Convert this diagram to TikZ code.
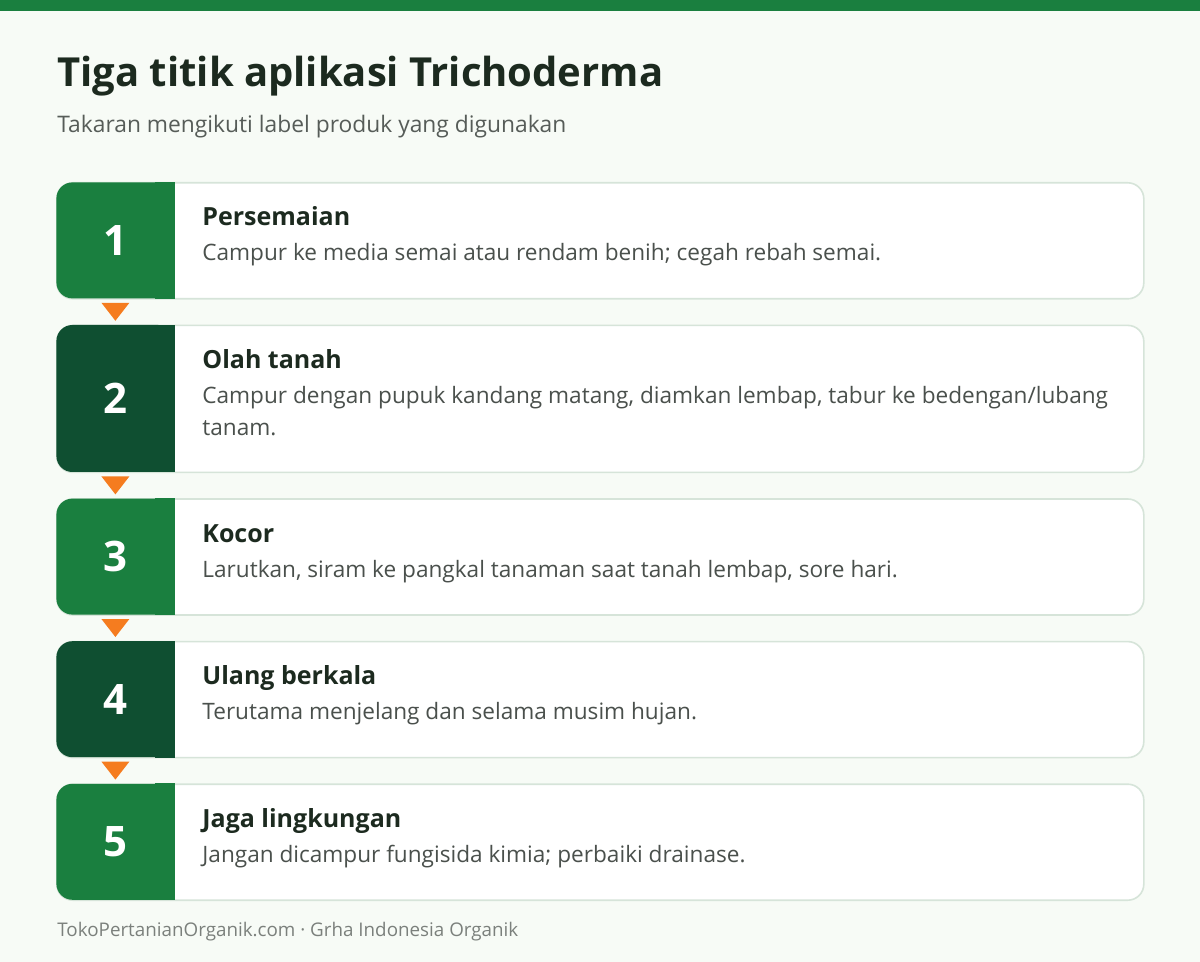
\documentclass[tikz,border=0pt]{standalone}
\usepackage{fontspec}
\setmainfont{Open Sans}
\usepackage{xcolor}
\usepackage{tikz}
\usetikzlibrary{positioning,calc}
\definecolor{palBar}{HTML}{1A7F3F}
\definecolor{palGreen}{HTML}{1A7F3F}
\definecolor{palGreenDk}{HTML}{0F4F31}
\definecolor{palOrange}{HTML}{F57C1F}
\definecolor{palEdge}{HTML}{D6E4D9}
\definecolor{palPage}{HTML}{F7FBF6}
\definecolor{palInk}{HTML}{1C2A1F}
\definecolor{palText}{HTML}{4A504C}
\definecolor{palSub}{HTML}{565C58}
\definecolor{palFoot}{HTML}{7B807C}
\tikzset{
  cardbox/.style={draw=palEdge, fill=white, line width=0.8pt,
                  rounded corners=8pt, minimum width=543.5pt,
                  minimum height=58pt, inner sep=0pt},
  numbox/.style={rounded corners=8pt, minimum width=59pt,
                 minimum height=58pt, inner sep=0pt, text=white,
                 font=\bfseries\fontsize{21}{24}\selectfont},
  headtxt/.style={anchor=base west, inner sep=0pt, text=palInk,
                  font=\bfseries\fontsize{12.5}{15}\selectfont},
  desctxt/.style={anchor=base west, inner sep=0pt, text=palText, align=left,
                  font=\fontsize{11.3}{16}\selectfont},
  flowtri/.style={fill=palOrange},
}

\begin{document}
\begin{tikzpicture}[node distance=12.5pt]
%% Page
\fill[palPage] (0,0) rectangle (600pt,-481pt);
\useasboundingbox (0,0) rectangle (600pt,-481pt);
\fill[palBar] (0,0) rectangle (600pt,-5.5pt);
%% Title
\node[anchor=base west, inner sep=0pt, text=palInk,
      font=\bfseries\fontsize{20}{24}\selectfont] (title) at (28.5pt,-43.5pt)
      {Tiga titik aplikasi Trichoderma};
\node[anchor=base west, inner sep=0pt, text=palSub,
      font=\fontsize{11.4}{14}\selectfont] (sub) at (28.5pt,-66.5pt)
      {Takaran mengikuti label produk yang digunakan};
%% Cards
\node[cardbox, anchor=north west] (c1) at (28pt,-91pt) {};
\node[cardbox, minimum height=73.5pt, below=of c1] (c2) {};
\node[cardbox, below=of c2] (c3) {};
\node[cardbox, below=of c3] (c4) {};
\node[cardbox, below=of c4] (c5) {};
%% Number boxes
\node[numbox, fill=palGreen, anchor=north west] (n1) at (c1.north west) {1};
\node[numbox, fill=palGreenDk, minimum height=73.5pt, anchor=north west] (n2) at (c2.north west) {2};
\node[numbox, fill=palGreen, anchor=north west] (n3) at (c3.north west) {3};
\node[numbox, fill=palGreenDk, anchor=north west] (n4) at (c4.north west) {4};
\node[numbox, fill=palGreen, anchor=north west] (n5) at (c5.north west) {5};
% square off the right-hand corners
\fill[palGreen] ([xshift=-10pt]n1.north east) rectangle (n1.south east);
\fill[palGreenDk] ([xshift=-10pt]n2.north east) rectangle (n2.south east);
\fill[palGreen] ([xshift=-10pt]n3.north east) rectangle (n3.south east);
\fill[palGreenDk] ([xshift=-10pt]n4.north east) rectangle (n4.south east);
\fill[palGreen] ([xshift=-10pt]n5.north east) rectangle (n5.south east);
%% Texts
\node[headtxt] (h1) at ([xshift=73pt,yshift=-22pt]c1.north west) {Persemaian};
\node[desctxt] (d1) at ([xshift=73pt,yshift=-39.5pt]c1.north west)
  {Campur ke media semai atau rendam benih; cegah rebah semai.};
\node[headtxt] (h2) at ([xshift=73pt,yshift=-22pt]c2.north west) {Olah tanah};
\node[desctxt] (d2) at ([xshift=73pt,yshift=-55.5pt]c2.north west)
  {Campur dengan pupuk kandang matang, diamkan lembap, tabur ke bedengan/lubang\\tanam.};
\node[headtxt] (h3) at ([xshift=73pt,yshift=-22pt]c3.north west) {Kocor};
\node[desctxt] (d3) at ([xshift=73pt,yshift=-39.5pt]c3.north west)
  {Larutkan, siram ke pangkal tanaman saat tanah lembap, sore hari.};
\node[headtxt] (h4) at ([xshift=73pt,yshift=-22pt]c4.north west) {Ulang berkala};
\node[desctxt] (d4) at ([xshift=73pt,yshift=-39.5pt]c4.north west)
  {Terutama menjelang dan selama musim hujan.};
\node[headtxt] (h5) at ([xshift=73pt,yshift=-22pt]c5.north west) {Jaga lingkungan};
\node[desctxt] (d5) at ([xshift=73pt,yshift=-39.5pt]c5.north west)
  {Jangan dicampur fungisida kimia; perbaiki drainase.};
%% Flow markers
\fill[flowtri] ([xshift=-7pt,yshift=-2pt]n1.south) -- ([xshift=7pt,yshift=-2pt]n1.south) -- ([yshift=-11pt]n1.south) -- cycle;
\fill[flowtri] ([xshift=-7pt,yshift=-2pt]n2.south) -- ([xshift=7pt,yshift=-2pt]n2.south) -- ([yshift=-11pt]n2.south) -- cycle;
\fill[flowtri] ([xshift=-7pt,yshift=-2pt]n3.south) -- ([xshift=7pt,yshift=-2pt]n3.south) -- ([yshift=-11pt]n3.south) -- cycle;
\fill[flowtri] ([xshift=-7pt,yshift=-2pt]n4.south) -- ([xshift=7pt,yshift=-2pt]n4.south) -- ([yshift=-11pt]n4.south) -- cycle;
%% Footer
\node[anchor=base west, inner sep=0pt, text=palFoot,
      font=\fontsize{9.4}{12}\selectfont] (foot) at (28.5pt,-468pt)
      {TokoPertanianOrganik.com · Grha Indonesia Organik};
\end{tikzpicture}
\end{document}
